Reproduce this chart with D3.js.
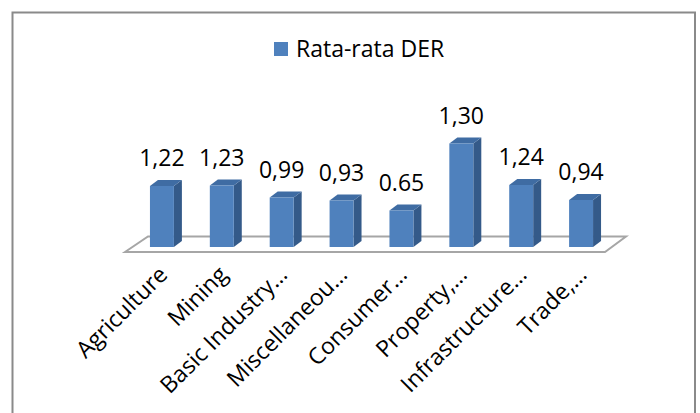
<!DOCTYPE html>
<html>
<head>
<meta charset="utf-8">
<script src="https://cdn.jsdelivr.net/npm/d3@7"></script>
<style>
  html, body { margin: 0; padding: 0; background: #fff; }
  svg { display: block; }
  text { font-family: "Open Sans", "Noto Sans", sans-serif; fill: #000; }
</style>
</head>
<body>
<svg id="chart" width="700" height="413"></svg>
<script>
// ---- data ----
const categories = ["Agriculture", "Mining", "Basic Industry…", "Miscellaneou…", "Consumer…", "Property,…", "Infrastructure…", "Trade,…"];
// bar heights as drawn in the reference
const barValues = [1.22, 1.23, 0.99, 0.93, 0.73, 2.07, 1.24, 0.94];
// data labels as printed in the reference
const labelTexts = ["1,22", "1,23", "0,99", "0,93", "0.65", "1,30", "1,24", "0,94"];
const seriesName = ["Rata-rata DER"];

// ---- layout ----
const svg = d3.select("#chart");
const frontColor = "#4F81BD", topColor = "#3F6CA3", sideColor = "#345A89";
const depthX = 8, depthY = 6;
const fs = 23;

// outer border
svg.append("rect")
  .attr("x", 12.5).attr("y", 12.5)
  .attr("width", 682.5).attr("height", 420)
  .attr("fill", "none").attr("stroke", "#8a8a8a").attr("stroke-width", 2);

const x = d3.scaleBand().domain(categories).range([126, 617]).paddingInner(0.6).paddingOuter(0.4);
const y = d3.scaleLinear().domain([0, 2.5]).range([247, 247 - 125]);

// floor
const floorFrontY = 252, floorBackY = 236.5;
svg.append("path")
  .attr("d", d3.line()([[125, floorFrontY], [148, floorBackY], [626, floorBackY], [605, floorFrontY]]) + "Z")
  .attr("fill", "#fff").attr("stroke", "#a6a6a6").attr("stroke-width", 2);

// bars
const bw = x.bandwidth();
const bars = svg.append("g").selectAll("g").data(barValues).join("g");
bars.each(function(v, i) {
  const g = d3.select(this);
  const x0 = x(categories[i]);
  const yt = y(v), yb = y(0);
  g.append("path")
    .attr("d", d3.line()([[x0 + bw, yt], [x0 + bw + depthX, yt - depthY], [x0 + bw + depthX, yb - depthY], [x0 + bw, yb]]) + "Z")
    .attr("fill", sideColor);
  g.append("path")
    .attr("d", d3.line()([[x0, yt], [x0 + depthX, yt - depthY], [x0 + bw + depthX, yt - depthY], [x0 + bw, yt]]) + "Z")
    .attr("fill", topColor);
  g.append("rect")
    .attr("x", x0).attr("y", yt).attr("width", bw).attr("height", yb - yt)
    .attr("fill", frontColor);
});

// data labels
svg.append("g").selectAll("text").data(barValues).join("text")
  .attr("x", (d, i) => x(categories[i]) + bw / 2)
  .attr("y", d => y(d) - 20)
  .attr("text-anchor", "middle")
  .attr("font-size", fs)
  .text((d, i) => labelTexts[i]);

// category axis labels
svg.append("g").selectAll("text").data(categories).join("text")
  .attr("transform", d => `translate(${x(d) + bw / 2 + 7},${276}) rotate(-45)`)
  .attr("text-anchor", "end")
  .attr("font-size", fs)
  .text(d => d);

// legend
const lg = svg.append("g");
lg.append("rect").attr("x", 274).attr("y", 42).attr("width", 14).attr("height", 14).attr("fill", frontColor);
lg.append("text").attr("x", 296).attr("y", 57).attr("font-size", fs).text(seriesName[0]);
</script>
</body>
</html>
